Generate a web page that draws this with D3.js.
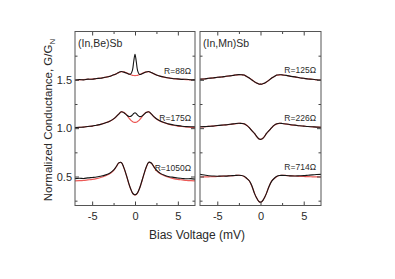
<!DOCTYPE html>
<html>
<head>
<meta charset="utf-8">
<script src="https://cdn.jsdelivr.net/npm/d3@7"></script>
<style>
  body { margin: 0; background: #fff; }
  text { font-family: "Liberation Sans", Arial, sans-serif; fill: #2a2a2a; }
</style>
</head>
<body>
<div id="viz"></div>
<script>
// bias voltage grid (mV) shared by all traces
var bias = [-7, -6.5, -6, -5.5, -5, -4.5, -4, -3.5, -3, -2.5, -2.2, -1.9, -1.6, -1.3, -1.0, -0.7, -0.5, -0.3, -0.15, 0,
            0.15, 0.3, 0.5, 0.7, 1.0, 1.3, 1.6, 1.9, 2.2, 2.5, 3, 3.5, 4, 4.5, 5, 5.5, 6, 6.5, 7];

// (In,Be)Sb : measured (black) and fit (red)
var beData88 = [1.498, 1.503, 1.500, 1.507, 1.506, 1.514, 1.516, 1.527, 1.534, 1.552, 1.561, 1.577, 1.586, 1.580, 1.571, 1.559, 1.560, 1.598, 1.690, 1.765,
                1.688, 1.596, 1.557, 1.557, 1.570, 1.581, 1.586, 1.576, 1.563, 1.551, 1.536, 1.527, 1.519, 1.512, 1.510, 1.505, 1.506, 1.501, 1.503];
var beFit88  = [1.495, 1.500, 1.502, 1.505, 1.508, 1.512, 1.518, 1.525, 1.535, 1.550, 1.562, 1.575, 1.585, 1.582, 1.572, 1.560, 1.552, 1.547, 1.545, 1.544,
                1.545, 1.547, 1.552, 1.560, 1.572, 1.582, 1.585, 1.575, 1.562, 1.550, 1.535, 1.525, 1.518, 1.512, 1.508, 1.505, 1.502, 1.500, 1.497];

var beData175 = [1.006, 1.009, 1.011, 1.018, 1.021, 1.031, 1.039, 1.054, 1.069, 1.096, 1.119, 1.146, 1.169, 1.160, 1.138, 1.121, 1.122, 1.137, 1.152, 1.160,
                 1.151, 1.136, 1.121, 1.120, 1.139, 1.161, 1.170, 1.147, 1.120, 1.097, 1.072, 1.056, 1.042, 1.033, 1.026, 1.020, 1.016, 1.014, 1.013];
var beFit175  = [1.005, 1.008, 1.012, 1.017, 1.022, 1.030, 1.040, 1.053, 1.070, 1.095, 1.118, 1.145, 1.168, 1.165, 1.140, 1.105, 1.083, 1.068, 1.061, 1.059,
                 1.061, 1.068, 1.083, 1.105, 1.140, 1.165, 1.168, 1.145, 1.118, 1.095, 1.070, 1.053, 1.040, 1.030, 1.022, 1.017, 1.012, 1.008, 1.006];

var beData1050 = [0.478, 0.482, 0.480, 0.486, 0.490, 0.494, 0.503, 0.514, 0.532, 0.566, 0.601, 0.641, 0.646, 0.592, 0.512, 0.421, 0.371, 0.331, 0.316, 0.311,
                  0.317, 0.332, 0.370, 0.423, 0.512, 0.595, 0.648, 0.640, 0.602, 0.566, 0.530, 0.511, 0.498, 0.491, 0.484, 0.480, 0.476, 0.478, 0.473];
var beFit1050  = [0.455, 0.457, 0.460, 0.465, 0.470, 0.478, 0.490, 0.505, 0.525, 0.562, 0.598, 0.640, 0.645, 0.590, 0.510, 0.420, 0.370, 0.330, 0.315, 0.310,
                  0.315, 0.330, 0.370, 0.420, 0.510, 0.590, 0.645, 0.640, 0.598, 0.562, 0.525, 0.505, 0.490, 0.478, 0.470, 0.465, 0.460, 0.457, 0.455];

// (In,Mn)Sb : measured (black) and fit (red)
var mnData125 = [1.507, 1.509, 1.516, 1.519, 1.527, 1.529, 1.537, 1.541, 1.549, 1.554, 1.552, 1.549, 1.534, 1.519, 1.499, 1.481, 1.469, 1.461, 1.455, 1.456,
                 1.455, 1.461, 1.467, 1.479, 1.497, 1.519, 1.534, 1.549, 1.553, 1.551, 1.546, 1.536, 1.531, 1.521, 1.516, 1.509, 1.506, 1.501, 1.498];
var mnFit125  = [1.505, 1.510, 1.515, 1.520, 1.525, 1.530, 1.536, 1.542, 1.548, 1.553, 1.553, 1.548, 1.535, 1.518, 1.500, 1.480, 1.470, 1.460, 1.456, 1.455,
                 1.456, 1.460, 1.468, 1.478, 1.498, 1.518, 1.535, 1.548, 1.552, 1.552, 1.545, 1.537, 1.530, 1.522, 1.515, 1.510, 1.505, 1.500, 1.497];

var mnData226 = [1.014, 1.016, 1.019, 1.021, 1.027, 1.031, 1.034, 1.041, 1.046, 1.051, 1.049, 1.046, 1.029, 1.006, 0.974, 0.946, 0.921, 0.899, 0.887, 0.884,
                 0.888, 0.897, 0.919, 0.946, 0.976, 1.006, 1.031, 1.046, 1.051, 1.049, 1.043, 1.036, 1.031, 1.025, 1.021, 1.017, 1.014, 1.011, 1.009];
var mnFit226  = [1.012, 1.015, 1.018, 1.022, 1.026, 1.030, 1.035, 1.040, 1.045, 1.050, 1.050, 1.045, 1.030, 1.005, 0.975, 0.945, 0.920, 0.898, 0.888, 0.884,
                 0.888, 0.898, 0.920, 0.945, 0.975, 1.005, 1.030, 1.045, 1.050, 1.048, 1.042, 1.035, 1.030, 1.025, 1.021, 1.017, 1.014, 1.011, 1.008];

var mnData714 = [0.522, 0.515, 0.508, 0.505, 0.503, 0.505, 0.504, 0.508, 0.510, 0.513, 0.510, 0.502, 0.482, 0.456, 0.405, 0.325, 0.286, 0.254, 0.239, 0.234,
                 0.240, 0.255, 0.288, 0.328, 0.400, 0.452, 0.482, 0.502, 0.511, 0.512, 0.510, 0.506, 0.505, 0.507, 0.509, 0.513, 0.517, 0.520, 0.522];
var mnFit714  = [0.495, 0.496, 0.497, 0.498, 0.500, 0.502, 0.505, 0.507, 0.510, 0.512, 0.510, 0.500, 0.480, 0.455, 0.400, 0.328, 0.288, 0.255, 0.240, 0.235,
                 0.240, 0.255, 0.288, 0.328, 0.400, 0.455, 0.480, 0.500, 0.510, 0.512, 0.510, 0.507, 0.505, 0.502, 0.500, 0.498, 0.497, 0.496, 0.495];

var xTicks = [-5, 0, 5];
var xMinor = [-2.5, 2.5];
var yTicks = [0.5, 1.0, 1.5];
var yMinor = [0.25, 0.75, 1.25, 1.75];

var panels = [
  { title: "(In,Be)Sb", left: 75, right: 195,
    data: [beData88, beData175, beData1050], fit: [beFit88, beFit175, beFit1050],
    labels: ["R=88\u03A9", "R=175\u03A9", "R=1050\u03A9"], labelX: 191, labelY: [74, 120.5, 171] },
  { title: "(In,Mn)Sb", left: 200, right: 321,
    data: [mnData125, mnData226, mnData714], fit: [mnFit125, mnFit226, mnFit714],
    labels: ["R=125\u03A9", "R=226\u03A9", "R=714\u03A9"], labelX: 316, labelY: [72.5, 120.5, 170] }
];

(function () {
  var width = 395, height = 279;
  var plotTop = 31.5, plotBottom = 205.5;

  var svg = d3.select("#viz").append("svg")
      .attr("width", width)
      .attr("height", height);

  var y = d3.scaleLinear().domain([0.2, 2.0]).range([plotBottom, plotTop]);

  panels.forEach(function (p, pi) {
    var x = d3.scaleLinear().domain([-7, 7]).range([p.left, p.right]);

    var line = d3.line()
      .x(function (d, i) { return x(bias[i]); })
      .y(function (d) { return y(d); })
      .curve(d3.curveCatmullRom);

    var g = svg.append("g");

    // fits first, data on top
    p.fit.forEach(function (s) {
      g.append("path").attr("d", line(s))
        .attr("fill", "none").attr("stroke", "#ec5a57").attr("stroke-width", 1.2);
    });
    p.data.forEach(function (s) {
      g.append("path").attr("d", line(s))
        .attr("fill", "none").attr("stroke", "#151515").attr("stroke-width", 1.1);
    });

    // axes, ticks point inwards
    g.append("g").attr("transform", "translate(0," + plotBottom + ")")
      .call(d3.axisBottom(x).tickValues(xTicks).tickSize(-4).tickPadding(7)
        .tickFormat(function (d) { return String(d); }));
    g.append("g").attr("transform", "translate(0," + plotBottom + ")")
      .call(d3.axisBottom(x).tickValues(xMinor).tickSize(-2.5).tickFormat(""));
    g.append("g").attr("transform", "translate(0," + plotTop + ")")
      .call(d3.axisTop(x).tickValues(xTicks).tickSize(-4).tickFormat(""));
    g.append("g").attr("transform", "translate(0," + plotTop + ")")
      .call(d3.axisTop(x).tickValues(xMinor).tickSize(-2.5).tickFormat(""));

    g.append("g").attr("transform", "translate(" + p.left + ",0)")
      .call(d3.axisLeft(y).tickValues(yTicks).tickSize(-4).tickPadding(3)
        .tickFormat(pi === 0 ? d3.format(".1f") : ""));
    g.append("g").attr("transform", "translate(" + p.left + ",0)")
      .call(d3.axisLeft(y).tickValues(yMinor).tickSize(-2.5).tickFormat(""));
    g.append("g").attr("transform", "translate(" + p.right + ",0)")
      .call(d3.axisRight(y).tickValues(yTicks).tickSize(-4).tickFormat(""));
    g.append("g").attr("transform", "translate(" + p.right + ",0)")
      .call(d3.axisRight(y).tickValues(yMinor).tickSize(-2.5).tickFormat(""));

    g.selectAll(".domain").remove();
    g.selectAll(".tick line").attr("stroke", "#444");
    g.selectAll(".tick text").attr("font-size", 11).attr("fill", "#2a2a2a")
      .attr("font-family", "Liberation Sans, Arial, sans-serif");

    g.append("rect")
      .attr("x", p.left).attr("y", plotTop)
      .attr("width", p.right - p.left).attr("height", plotBottom - plotTop)
      .attr("fill", "none").attr("stroke", "#555").attr("stroke-width", 1);

    g.append("text").attr("x", p.left + 3).attr("y", 47)
      .attr("font-size", 10.5).text(p.title);

    p.labels.forEach(function (t, i) {
      g.append("text").attr("x", p.labelX).attr("y", p.labelY[i])
        .attr("text-anchor", "end").attr("font-size", 8.5).text(t);
    });
  });

  svg.append("text")
    .attr("x", 197).attr("y", 238.5)
    .attr("text-anchor", "middle").attr("font-size", 12)
    .text("Bias Voltage (mV)");

  var yl = svg.append("text")
    .attr("transform", "translate(52,120) rotate(-90)")
    .attr("text-anchor", "middle").attr("font-size", 11.5);
  yl.append("tspan").text("Normalized Conductance, G/G");
  yl.append("tspan").attr("font-size", 8).attr("dy", 3).text("N");
})();
</script>
</body>
</html>
